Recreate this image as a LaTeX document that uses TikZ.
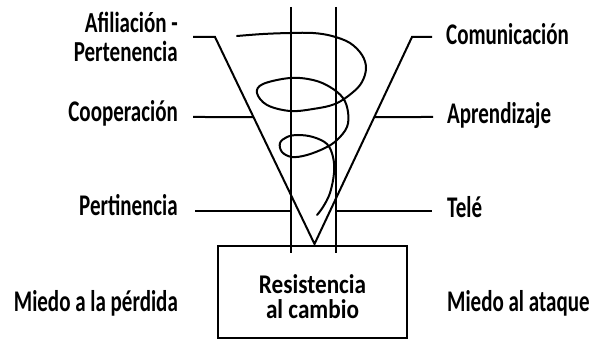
\documentclass[tikz,border=0pt]{standalone}
\usepackage{fontspec}
\usetikzlibrary{calc}
\newfontfamily\lblfont{Carlito Bold}[FakeStretch=0.7]
\newfontfamily\lbltwofont{Carlito Bold}[FakeStretch=0.725]
\newfontfamily\bxfont{Carlito Bold}[FakeStretch=0.86]
\begin{document}
\begin{tikzpicture}[x=1pt,y=-1pt,
  ln/.style={line width=2pt,line join=miter},
  lbl/.style={inner sep=0pt,font=\lblfont\fontsize{30}{27}\selectfont},
  lbltwo/.style={inner sep=0pt,font=\lbltwofont\fontsize{29}{29.5}\selectfont},
  boxtxt/.style={align=center,inner sep=0pt,font=\bxfont\fontsize{27}{25}\selectfont}]
\useasboundingbox (0,0) rectangle (598,342);
% cone
\coordinate (apex) at (314.5,244);
\coordinate (lt) at (215,37); \coordinate (lt0) at (193,37);
\coordinate (rt) at (412,37); \coordinate (rt0) at (432,37);
\draw[ln] (lt0) -- (lt) -- (apex) -- (rt) -- (rt0);
% verticals
\coordinate (v1t) at (291,7); \coordinate (v1b) at (291,253);
\coordinate (v2t) at (336,7); \coordinate (v2b) at (336,253);
\draw[ln] (v1t) -- (v1b);
\draw[ln] (v2t) -- (v2b);
% box
\draw[ln] (218,246) rectangle (407,338);
\node[boxtxt] (box) at (312.5,297) {Resistencia\\al cambio};
% labels
\node[lbltwo,anchor=east,align=right] (afil) at (178,37) {Afiliación -\\Pertenencia};
\node[lbl,anchor=base east] (coop) at (178,122) {Cooperación};
\node[lbl,anchor=base east] (pert) at (178,216) {Pertinencia};
\node[lbl,anchor=base east] (miedop) at (178,312) {Miedo a la pérdida};
\node[lbl,anchor=base west] (comu) at (446,45) {Comunicación};
\node[lbl,anchor=base west] (apre) at (447,124) {Aprendizaje};
\node[lbl,anchor=base west] (tele) at (447,218) {Telé};
\node[lbl,anchor=base west] (miedoa) at (447,312) {Miedo al ataque};
% horizontal connectors
\coordinate (c1) at (193,117); \coordinate (c2) at ($(lt)!0.3865!(apex)$);
\coordinate (a1) at ($(rt)!0.3865!(apex)$); \coordinate (a2) at (433,117);
\coordinate (p1) at (195,211); \coordinate (p2) at (291,211);
\coordinate (t1) at (336,211); \coordinate (t2) at (432,211);
\draw[ln] (c1) -- (c2);
\draw[ln] (a1) -- (a2);
\draw[ln] (p1) -- (p2);
\draw[ln] (t1) -- (t2);
% spiral
\draw[line width=2pt,line cap=round] plot[smooth,tension=0.6] coordinates {
 (237,36) (263,34) (290,33) (313,33) (332,36) (350,43) (362,55) (366,68)
 (362,82) (352,93) (335,104) (313,109) (290,111) (267,105) (257,93) (263,84)
 (290,78) (313,80) (330,87) (343,98) (348,112) (347,127) (337,140) (325,148)
 (307,155) (292,157) (282,152) (280,143) (287,137) (298,135) (313,137) (327,144)
 (333,157) (334,173) (330,193) (323,207) (317,215)};
\end{tikzpicture}
\end{document}
